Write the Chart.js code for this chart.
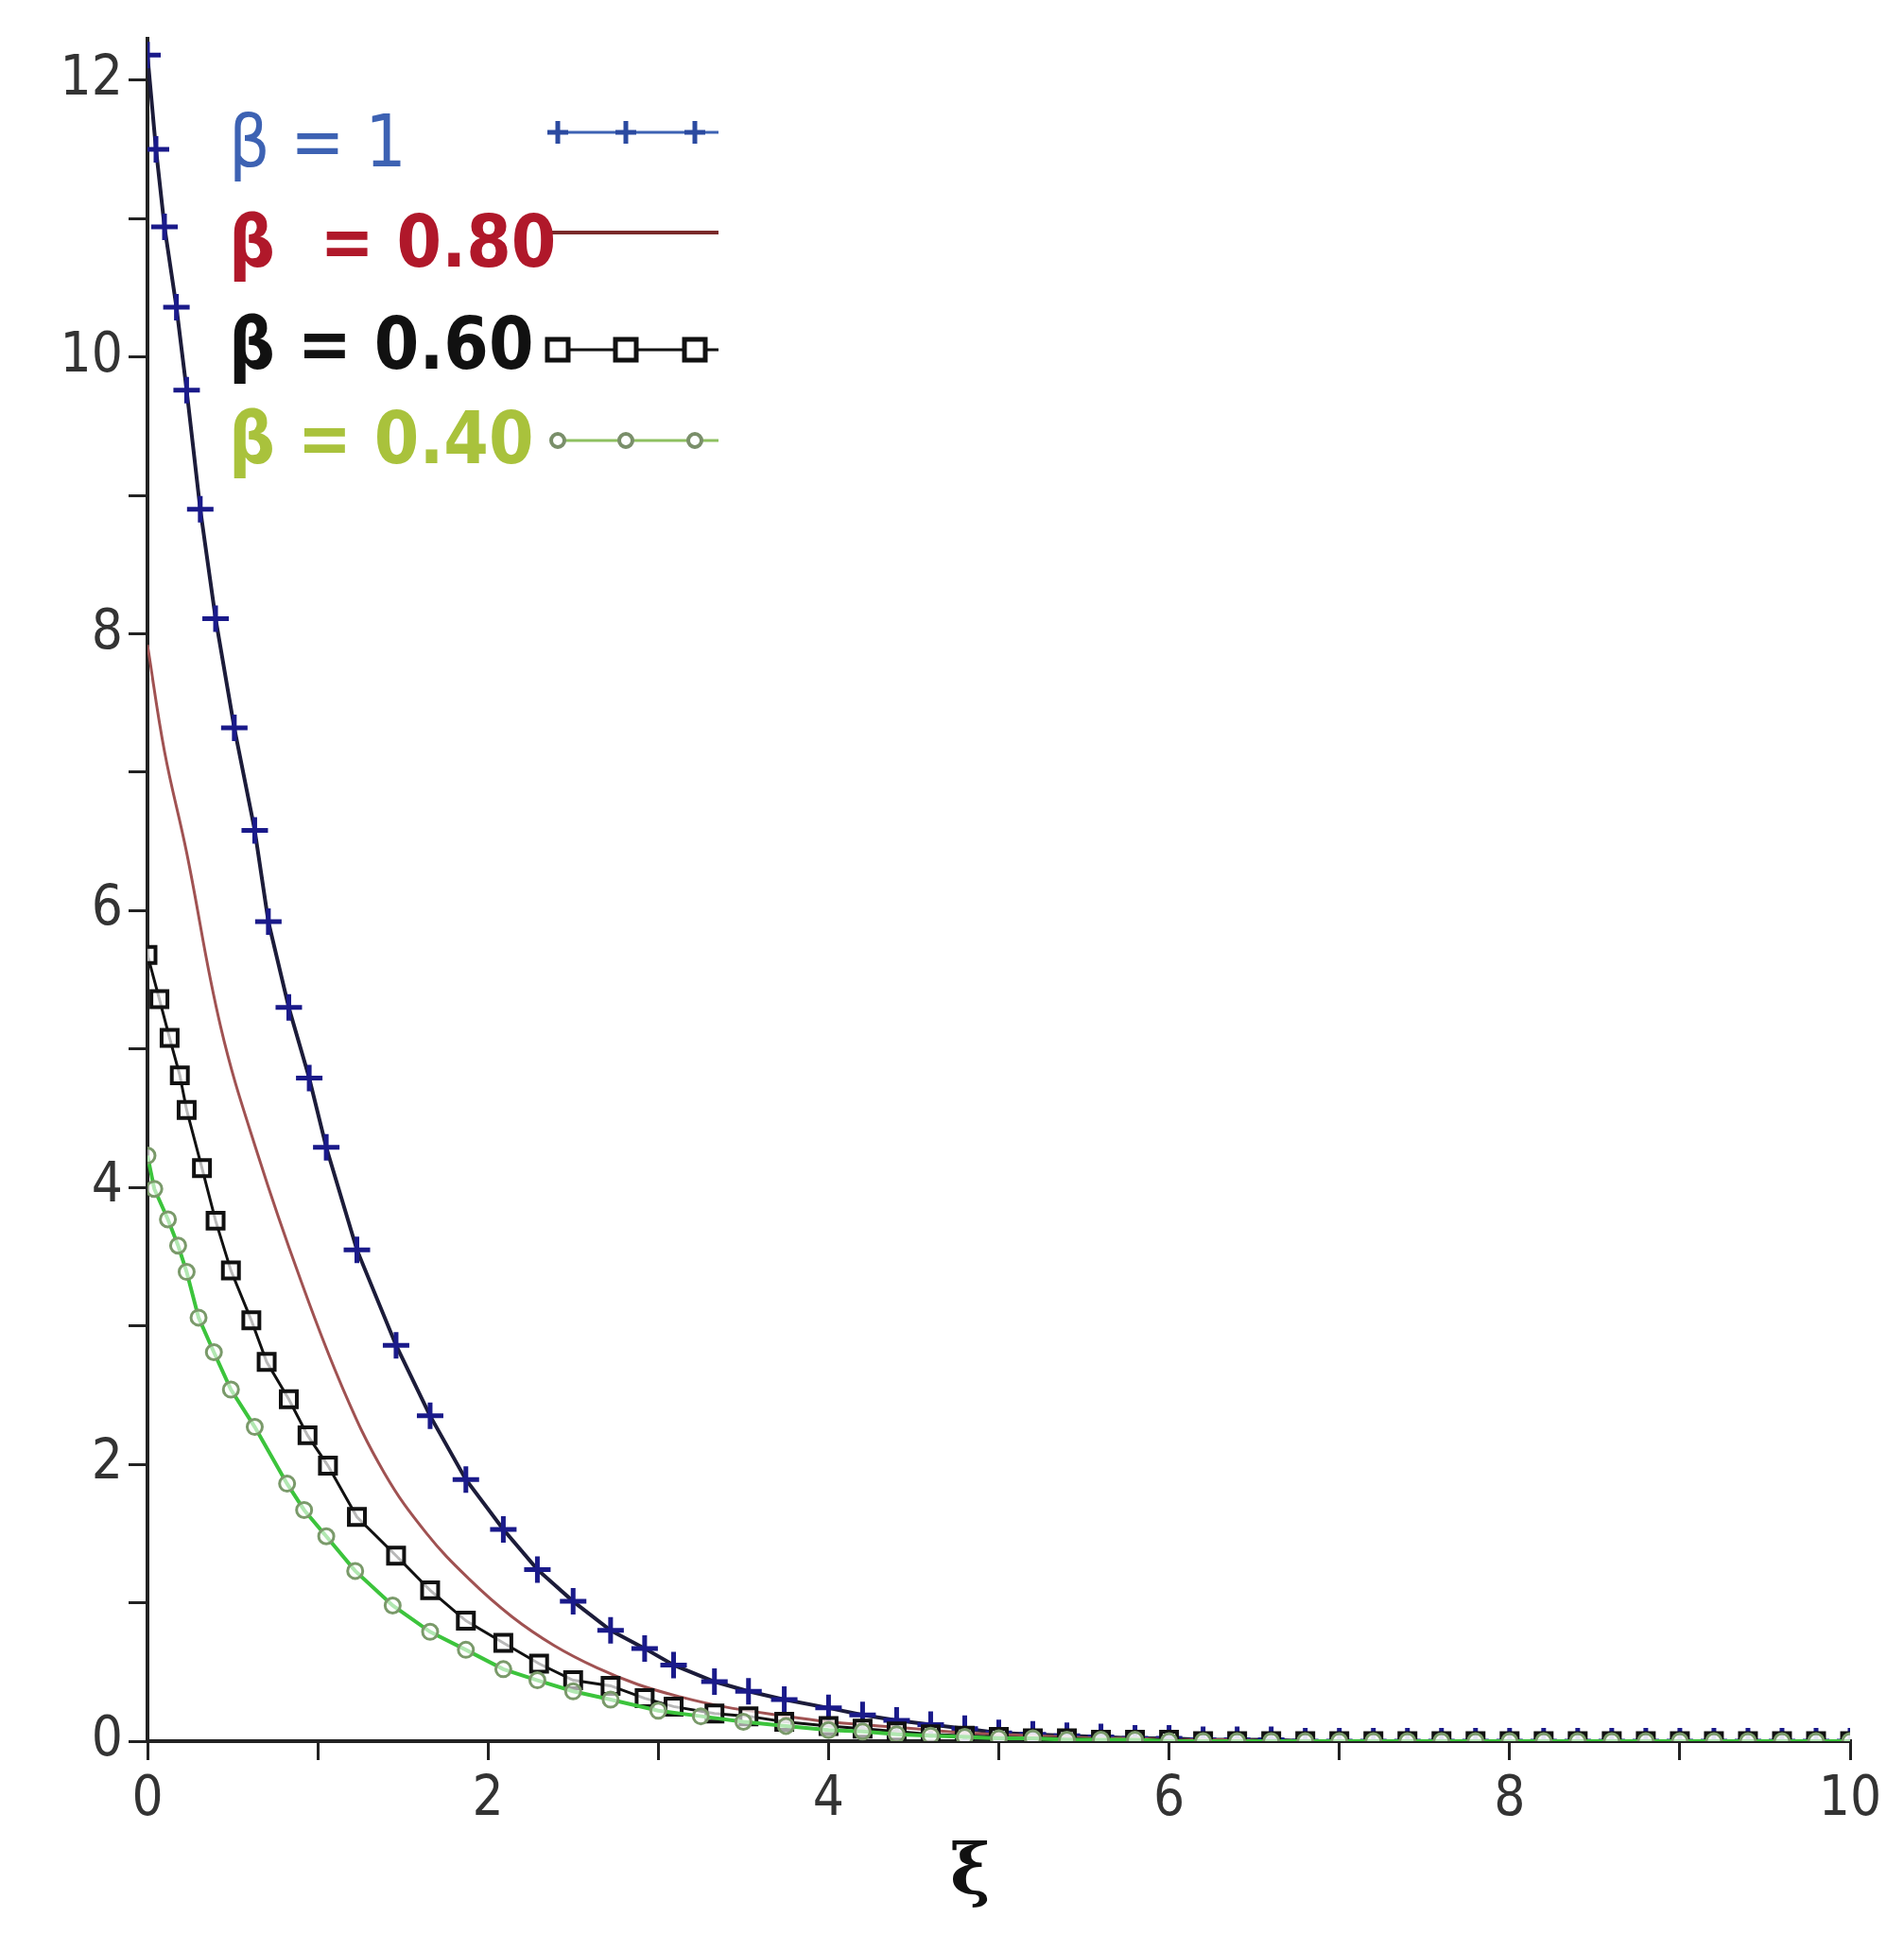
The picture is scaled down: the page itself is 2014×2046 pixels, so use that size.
<!DOCTYPE html>
<html>
<head>
<meta charset="utf-8">
<script src="https://cdn.jsdelivr.net/npm/chart.js@4.4.1/dist/chart.umd.min.js"></script>
<style>
  html, body { margin: 0; padding: 0; background: #fff; }
  #wrap { position: relative; width: 2014px; height: 2046px; }
  #plot { position: absolute; left: 0; top: 0; }
  .leg { position: absolute; left: 242px; font-family: "Liberation Sans Narrow", "DejaVu Sans Condensed", sans-serif; font-size: 76px; line-height: 1; }
  #xlab { position: absolute; left: 1005px; top: 1935px; font-family: "DejaVu Serif", serif; font-weight: bold; font-size: 72px; color: #111; }
</style>
</head>
<body>
<div id="wrap">
  <canvas id="plot" width="2014" height="2046"></canvas>
  <div class="leg" style="top:112px;color:#3d62b3;">β = 1</div>
  <div class="leg" style="top:218px;color:#b0182a;font-weight:bold;">β &nbsp;= 0.80</div>
  <div class="leg" style="top:326px;color:#111;font-weight:bold;">β = 0.60</div>
  <div class="leg" style="top:426px;color:#a9c23c;font-weight:bold;">β = 0.40</div>
  <div id="xlab">ξ</div>
</div>
<script>
// values
const tailX = [4.0, 4.2, 4.4, 4.6, 4.8, 5.0, 5.2, 5.4, 5.6, 5.8, 6.0, 6.2, 6.4, 6.6, 6.8, 7.0, 7.2, 7.4, 7.6, 7.8, 8.0, 8.2, 8.4, 8.6, 8.8, 9.0, 9.2, 9.4, 9.6, 9.8, 10.0];

const beta1X = [0, 0.05, 0.1, 0.17, 0.23, 0.31, 0.4, 0.51, 0.63, 0.71, 0.83, 0.95, 1.05, 1.23, 1.46, 1.66, 1.87, 2.09, 2.29, 2.5, 2.72, 2.92, 3.09, 3.33, 3.53, 3.74];
const beta1Y = [12.18, 11.5, 10.94, 10.36, 9.76, 8.9, 8.11, 7.32, 6.58, 5.92, 5.3, 4.79, 4.29, 3.55, 2.86, 2.35, 1.89, 1.53, 1.24, 1.01, 0.8, 0.67, 0.55, 0.43, 0.36, 0.3];
const beta1Tail = [0.24, 0.19, 0.15, 0.12, 0.09, 0.06, 0.05, 0.04, 0.03, 0.02, 0.02, 0.01, 0.01, 0.01, 0, 0, 0, 0, 0, 0, 0, 0, 0, 0, 0, 0, 0, 0, 0, 0, 0];

const beta08X = [0, 0.1, 0.23, 0.43, 0.65, 0.9, 1.15, 1.39, 1.64, 1.89, 2.14, 2.39, 2.64, 2.88, 3.13, 3.38, 3.75];
const beta08Y = [7.92, 7.15, 6.42, 5.16, 4.23, 3.33, 2.54, 1.94, 1.5, 1.17, 0.9, 0.69, 0.53, 0.41, 0.32, 0.25, 0.18];
const beta08Tail = [0.14, 0.12, 0.1, 0.08, 0.06, 0.05, 0.04, 0.03, 0.02, 0.02, 0.01, 0.01, 0.01, 0, 0, 0, 0, 0, 0, 0, 0, 0, 0, 0, 0, 0, 0, 0, 0, 0, 0];

const beta06X = [0, 0.07, 0.13, 0.19, 0.23, 0.32, 0.4, 0.49, 0.61, 0.7, 0.83, 0.94, 1.06, 1.23, 1.46, 1.66, 1.87, 2.09, 2.3, 2.5, 2.72, 2.92, 3.09, 3.33, 3.53, 3.74];
const beta06Y = [5.68, 5.36, 5.08, 4.81, 4.56, 4.14, 3.76, 3.4, 3.04, 2.74, 2.47, 2.21, 1.99, 1.62, 1.34, 1.09, 0.87, 0.71, 0.56, 0.44, 0.4, 0.31, 0.25, 0.2, 0.18, 0.14];
const beta06Tail = [0.11, 0.09, 0.07, 0.05, 0.04, 0.03, 0.02, 0.02, 0.01, 0.01, 0.01, 0, 0, 0, 0, 0, 0, 0, 0, 0, 0, 0, 0, 0, 0, 0, 0, 0, 0, 0, 0];

const beta04X = [0, 0.04, 0.12, 0.18, 0.23, 0.3, 0.39, 0.49, 0.63, 0.82, 0.92, 1.05, 1.22, 1.44, 1.66, 1.87, 2.09, 2.29, 2.5, 2.72, 3.0, 3.25, 3.5, 3.75];
const beta04Y = [4.23, 3.99, 3.77, 3.58, 3.39, 3.06, 2.81, 2.54, 2.27, 1.86, 1.67, 1.48, 1.23, 0.98, 0.79, 0.66, 0.52, 0.44, 0.36, 0.3, 0.22, 0.18, 0.14, 0.11];
const beta04Tail = [0.08, 0.07, 0.05, 0.04, 0.03, 0.02, 0.02, 0.01, 0.01, 0.01, 0, 0, 0, 0, 0, 0, 0, 0, 0, 0, 0, 0, 0, 0, 0, 0, 0, 0, 0, 0, 0];

const yTicks = [0, 2, 4, 6, 8, 10, 12];
const xTicks = [0, 2, 4, 6, 8, 10];

const pts = (xs, ys) => xs.map((x, i) => ({ x, y: ys[i] }));
const withTail = (xs, ys, tail) => pts(xs, ys).concat(pts(tailX, tail));
const unitTicks = n => Array.from({ length: n + 1 }, (_, i) => ({ value: i }));

// legend sample lines and markers (text is html)
const legendSamples = {
    id: 'legendSamples',
    afterDraw(chart) {
        const ctx = chart.ctx;
        const rows = [
            { y: 140, line: '#3d62b3', mk: 'cross', mc: '#2b4aa0' },
            { y: 246, line: '#7a2a2a', mk: null },
            { y: 370, line: '#111', mk: 'rect', mc: '#111' },
            { y: 466, line: '#8ec060', mk: 'circle', mc: '#7a8f6a' }
        ];
        rows.forEach(r => {
            ctx.save();
            ctx.strokeStyle = r.line;
            ctx.lineWidth = r.mk === null ? 4 : 3;
            ctx.beginPath(); ctx.moveTo(582, r.y); ctx.lineTo(760, r.y); ctx.stroke();
            if (r.mk) {
                [590, 662, 735].forEach(x => {
                    ctx.strokeStyle = r.mc; ctx.lineWidth = 5;
                    if (r.mk === 'cross') {
                        ctx.beginPath(); ctx.moveTo(x - 11, r.y); ctx.lineTo(x + 11, r.y);
                        ctx.moveTo(x, r.y - 12); ctx.lineTo(x, r.y + 12); ctx.stroke();
                    } else if (r.mk === 'rect') {
                        ctx.fillStyle = '#fff'; ctx.fillRect(x - 11, r.y - 11, 22, 22);
                        ctx.strokeRect(x - 11, r.y - 11, 22, 22);
                    } else {
                        ctx.lineWidth = 4;
                        ctx.fillStyle = '#fff'; ctx.beginPath(); ctx.arc(x, r.y, 7, 0, Math.PI * 2);
                        ctx.fill(); ctx.stroke();
                    }
                });
            }
            ctx.restore();
        });
    }
};

new Chart(document.getElementById('plot'), {
    type: 'scatter',
    data: {
        datasets: [
            {
                label: 'β = 0.40',
                data: withTail(beta04X, beta04Y, beta04Tail),
                showLine: true, borderColor: '#3cc43c', borderWidth: 4,
                pointStyle: 'circle', pointRadius: 8, pointBorderWidth: 3,
                pointBorderColor: '#7a9a6a', pointBackgroundColor: 'rgba(255,255,255,0.6)'
            },
            {
                label: 'β = 0.60',
                data: withTail(beta06X, beta06Y, beta06Tail),
                showLine: true, borderColor: '#111', borderWidth: 3,
                pointStyle: 'rect', pointRadius: 12, pointBorderWidth: 4,
                pointBorderColor: '#111', pointBackgroundColor: 'rgba(255,255,255,0.7)'
            },
            {
                label: 'β = 0.80',
                data: withTail(beta08X, beta08Y, beta08Tail),
                showLine: true, borderColor: '#a05252', borderWidth: 3,
                tension: 0.4, pointRadius: 0
            },
            {
                label: 'β = 1',
                data: withTail(beta1X, beta1Y, beta1Tail),
                showLine: true, borderColor: '#1c1c3a', borderWidth: 4,
                pointStyle: 'cross', pointRadius: 14, pointBorderWidth: 5,
                pointBorderColor: '#1a1a8a'
            }
        ]
    },
    options: {
        responsive: false,
        animation: false,
        layout: { padding: { top: 29, right: 57, bottom: 0, left: 0 } },
        plugins: { legend: { display: false }, tooltip: { enabled: false } },
        scales: {
            x: {
                type: 'linear', min: 0, max: 10,
                afterFit: s => { s.height = 204; },
                afterBuildTicks: s => { s.ticks = unitTicks(10); },
                border: { color: '#222', width: 4 },
                grid: { drawOnChartArea: false, color: '#222', lineWidth: 3, tickLength: 20 },
                ticks: {
                    autoSkip: false, color: '#333', padding: 8,
                    font: { family: 'Liberation Sans Narrow, DejaVu Sans Condensed, sans-serif', size: 58 },
                    callback: v => xTicks.includes(v) ? String(v) : ''
                }
            },
            y: {
                type: 'linear', min: 0, max: 12.3,
                afterFit: s => { s.width = 156; },
                afterBuildTicks: s => { s.ticks = unitTicks(12); },
                border: { color: '#222', width: 4 },
                grid: { drawOnChartArea: false, color: '#222', lineWidth: 3, tickLength: 20 },
                ticks: {
                    autoSkip: false, color: '#333', padding: 6,
                    font: { family: 'Liberation Sans Narrow, DejaVu Sans Condensed, sans-serif', size: 58 },
                    callback: v => yTicks.includes(v) ? String(v) : ''
                }
            }
        }
    },
    plugins: [legendSamples]
});
</script>
</body>
</html>
